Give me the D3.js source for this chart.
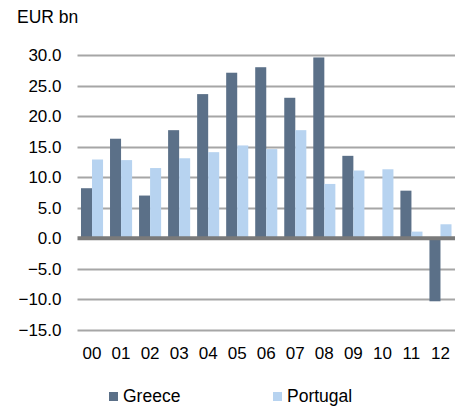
<!DOCTYPE html>
<html><head><meta charset="utf-8">
<script src="https://cdn.jsdelivr.net/npm/d3@7"></script>
<style>body{margin:0;background:#fff;}svg{display:block;font-family:"Liberation Sans",Arial,sans-serif;}</style>
</head><body><svg id="c" width="471" height="408"></svg>
<script>
const categories = ["00","01","02","03","04","05","06","07","08","09","10","11","12"];
const greece = [8.2,16.3,7.0,17.7,23.6,27.1,28.0,23.0,29.6,13.5,0,7.8,-10.3];
const portugal = [12.9,12.8,11.5,13.1,14.1,15.2,14.6,17.7,8.9,11.1,11.3,1.1,2.3];
const yTicks = [30,25,20,15,10,5,0,-5,-10,-15];
const seriesNames = ["Greece","Portugal"];
const colors = ["#5b7088","#b7d3f0"];

const svg = d3.select("#c");
const x = d3.scaleBand().domain(categories).range([77.5,455]).paddingInner(0.24).paddingOuter(0.12);
const y = d3.scaleLinear().domain([-15,30]).range([330,55]);
const xs = d3.scaleBand().domain(seriesNames).range([0,x.bandwidth()]);

// grid
svg.append("g").selectAll("line").data(yTicks.filter(d=>d!==0)).join("line")
  .attr("x1",77.5).attr("x2",455).attr("y1",d=>Math.round(y(d))+0.5).attr("y2",d=>Math.round(y(d))+0.5)
  .attr("stroke","#a6a6a6").attr("stroke-width",2);

// y labels
const yAxis = d3.axisLeft(y).tickValues(yTicks).tickFormat(d3.format(".1f")).tickSize(0).tickPadding(16);
const ya = svg.append("g").attr("transform","translate(77.5,0)").call(yAxis);
ya.select(".domain").remove();
ya.selectAll("text").attr("font-size",17).attr("fill","#000").attr("font-family","Liberation Sans, Arial, sans-serif");

// bars
const data = [greece, portugal];
data.forEach((vals,si)=>{
  svg.append("g").selectAll("rect").data(vals.map((v,i)=>({c:categories[i],v}))).join("rect")
    .attr("x",d=>x(d.c)+xs(seriesNames[si]))
    .attr("width",xs.bandwidth())
    .attr("y",d=>Math.min(y(d.v),y(0)))
    .attr("height",d=>Math.abs(y(d.v)-y(0)))
    .attr("fill",colors[si]);
});

// zero line
svg.append("line").attr("x1",77.5).attr("x2",455).attr("y1",y(0)).attr("y2",y(0))
  .attr("stroke","#7a7a7a").attr("stroke-width",4);

// x labels
const xAxis = d3.axisBottom(x).tickSize(0).tickPadding(0);
const xa = svg.append("g").attr("transform","translate(0,359)").call(xAxis);
xa.select(".domain").remove();
xa.selectAll("text").attr("y",0).attr("dy",0).attr("font-size",17).attr("fill","#000").attr("font-family","Liberation Sans, Arial, sans-serif");

// title
svg.append("text").attr("x",17).attr("y",23).attr("font-size",17.5).attr("fill","#000").text("EUR bn");

// legend
const legX = [109,273];
seriesNames.forEach((n,i)=>{
  svg.append("rect").attr("x",legX[i]).attr("y",392).attr("width",9).attr("height",9).attr("fill",colors[i]);
  svg.append("text").attr("x",legX[i]+14).attr("y",402).attr("font-size",17.5).attr("fill","#000").text(n);
});
</script></body></html>
